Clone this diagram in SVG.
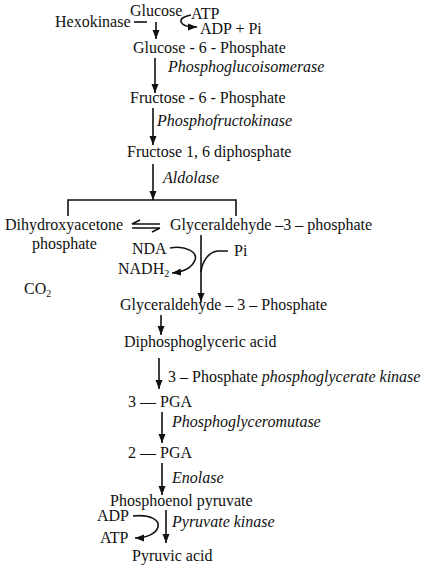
<svg xmlns="http://www.w3.org/2000/svg" width="442" height="571" viewBox="0 0 442 571">
<defs>
<style>
text{font-family:"Liberation Serif","Times New Roman",serif;font-size:16px;fill:#111}
.i{font-style:italic}
.c{stroke:#111;stroke-width:1.6;fill:none}
</style>
<marker id="ah" markerUnits="userSpaceOnUse" markerWidth="10" markerHeight="10" viewBox="0 0 10 10" refX="9" refY="5" orient="auto">
<path d="M0,1.5 L9,5 L0,8.5 Z" fill="#111"/>
</marker>
</defs>
<rect width="442" height="571" fill="#fff"/>
<g id="connectors">
<line class="c" x1="134" y1="22" x2="147" y2="22"/>
<line class="c" x1="156" y1="22" x2="156" y2="39" marker-end="url(#ah)"/>
<path class="c" d="M191,15 Q180,17 181,22 Q183,27 197,27" marker-end="url(#ah)"/>
<line class="c" x1="155" y1="58" x2="155" y2="93" marker-end="url(#ah)"/>
<line class="c" x1="153" y1="108" x2="153" y2="145" marker-end="url(#ah)"/>
<line class="c" x1="153" y1="164" x2="153" y2="200" marker-end="url(#ah)"/>
<path class="c" d="M68,216 V200 H236 V216"/>
<path class="c" d="M132,224 H160 M132,224 L140,220 M132,228 H160 M160,228 L152,232"/>
<line class="c" x1="201" y1="235" x2="201" y2="302" marker-end="url(#ah)"/>
<path class="c" d="M170,248 C185,245 198,252 195,260 C192,268 182,272 172,273" marker-end="url(#ah)"/>
<path class="c" d="M228,251 L218,251 C208,252 202,262 201,272"/>
<line class="c" x1="161" y1="315" x2="161" y2="335" marker-end="url(#ah)"/>
<line class="c" x1="159" y1="358" x2="159" y2="389" marker-end="url(#ah)"/>
<line class="c" x1="162" y1="412" x2="162" y2="443" marker-end="url(#ah)"/>
<line class="c" x1="162" y1="463" x2="162" y2="495" marker-end="url(#ah)"/>
<line class="c" x1="166" y1="510" x2="166" y2="543" marker-end="url(#ah)"/>
<path class="c" d="M133,516 C150,514 160,520 158,527 C156,534 146,538 135,538" marker-end="url(#ah)"/>
</g>
<g id="glucose"><text x="130" y="16">Glucose</text></g>
<g id="atp1"><text x="191" y="19">ATP</text></g>
<g id="hexokinase"><text x="55" y="27">Hexokinase</text></g>
<g id="adp1"><text x="200" y="34">ADP + Pi</text></g>
<g id="g6p"><text x="133" y="53">Glucose - 6 - Phosphate</text></g>
<g id="pgi"><text class="i" x="168" y="72">Phosphoglucoisomerase</text></g>
<g id="f6p"><text x="130" y="103">Fructose - 6 - Phosphate</text></g>
<g id="pfk"><text class="i" x="157" y="126">Phosphofructokinase</text></g>
<g id="f16bp"><text x="127" y="157">Fructose 1, 6 diphosphate</text></g>
<g id="aldolase"><text class="i" x="163" y="183">Aldolase</text></g>
<g id="dhap"><text x="5" y="230">Dihydroxyacetone</text><text x="32" y="249">phosphate</text></g>
<g id="g3p"><text x="170" y="230">Glyceraldehyde –3 – phosphate</text></g>
<g id="nda"><text x="132" y="254">NDA</text></g>
<g id="pi"><text x="234" y="256">Pi</text></g>
<g id="nadh"><text x="118" y="274">NADH<tspan font-size="10" dy="3">2</tspan></text></g>
<g id="co2"><text x="24" y="294">CO<tspan font-size="10" dy="3">2</tspan></text></g>
<g id="g3p2"><text x="120" y="310">Glyceraldehyde – 3 – Phosphate</text></g>
<g id="dpga"><text x="124" y="347">Diphosphoglyceric acid</text></g>
<g id="pgk"><text x="168" y="382">3 – Phosphate <tspan class="i">phosphoglycerate kinase</tspan></text></g>
<g id="pga3"><text x="128" y="407">3 — PGA</text></g>
<g id="pgm"><text class="i" x="172" y="427">Phosphoglyceromutase</text></g>
<g id="pga2"><text x="128" y="458">2 — PGA</text></g>
<g id="enolase"><text class="i" x="172" y="483">Enolase</text></g>
<g id="pep"><text x="110" y="506">Phosphoenol pyruvate</text></g>
<g id="adp2"><text x="97" y="521">ADP</text></g>
<g id="pk"><text class="i" x="172" y="527">Pyruvate kinase</text></g>
<g id="atp2"><text x="100" y="543">ATP</text></g>
<g id="pyruvate"><text x="132" y="561">Pyruvic acid</text></g>
</svg>
